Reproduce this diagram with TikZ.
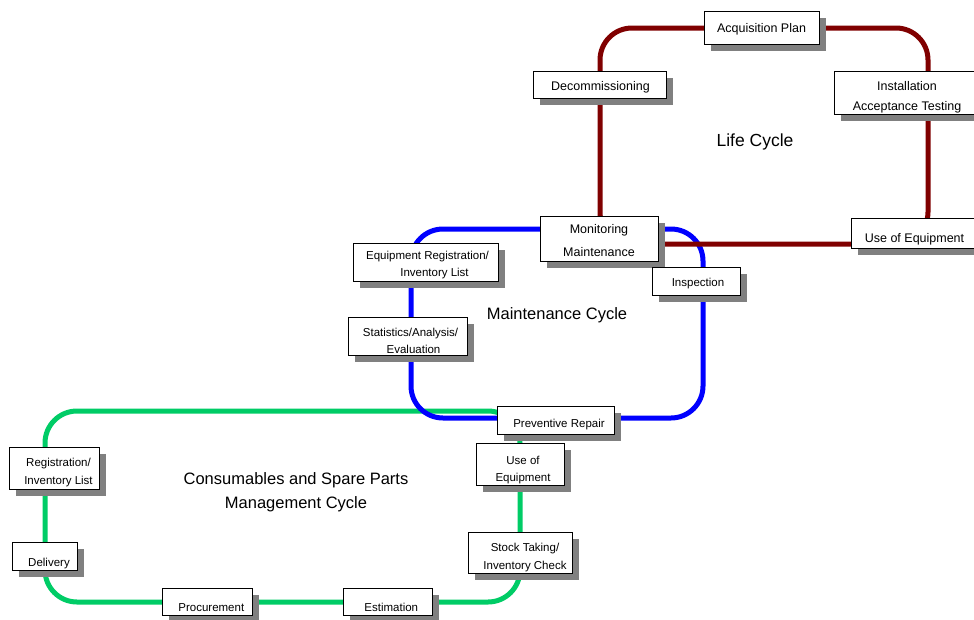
\documentclass[tikz,border=0pt]{standalone}
\usepackage{fontspec}
\setmainfont{Liberation Sans}
\usepackage{tikz}
\usetikzlibrary{shadows}
\definecolor{lifered}{RGB}{128,0,0}
\definecolor{maintblue}{RGB}{0,0,255}
\definecolor{partsgreen}{RGB}{0,204,102}
\tikzset{
    %Define style for boxes
    stage/.style={
           rectangle,
           draw=black, thick,
           fill=white,
           inner sep=0pt,
           align=center,
           font=\fontsize{12.5}{20}\selectfont,
           drop shadow={shadow xshift=7pt, shadow yshift=-7pt,
                        fill=black!50, opacity=1}
           },
    smallstage/.style={
           stage,
           font=\fontsize{11.5}{17.5}\selectfont
           },
    %Move the text inside a box (right, down, height of the lines above the last)
    nudge/.style n args={3}{
           execute at begin node={\hspace*{\dimexpr#1*2\relax}\rule{0pt}{\dimexpr#3+9.2pt+#2*2\relax}}
           },
    cyclelabel/.style={
           align=center,
           font=\fontsize{16.5}{24}\selectfont
           },
    % Define loop style
    loop/.style={
           line width=5pt,
           rounded corners=32pt}
}
\begin{document}
\begin{tikzpicture}[x=1pt,y=-1pt]
\useasboundingbox (0,0) rectangle (974,619);
 %loops
\draw[loop, partsgreen] (45,411) rectangle (520,602);
\draw[loop, maintblue] (411,229) rectangle (703,418);
\draw[loop, lifered] (600,28) rectangle (928,244);

 %life cycle
\node[stage, minimum width=115pt, minimum height=33pt, nudge={0pt}{2pt}{0pt}] (acq) at (761.5,27.5) {Acquisition Plan};
\node[stage, minimum width=133pt, minimum height=27pt, nudge={1pt}{2.2pt}{0pt}] (decom) at (599.5,84.5) {Decommissioning};
\node[stage, minimum width=142pt, minimum height=43pt, nudge={2pt}{5pt}{20pt}] (install) at (905,92.5) {Installation\\Acceptance Testing};
\node[stage, minimum width=129pt, minimum height=30pt, nudge={-1pt}{6pt}{0pt}] (uselife) at (915.5,233) {Use of Equipment};
\node[stage, minimum width=118pt, minimum height=45pt, font=\fontsize{12.5}{22.5}\selectfont, nudge={0pt}{2pt}{22.5pt}] (monitor) at (599,238.5) {Monitoring\\Maintenance};
\node[cyclelabel, font=\fontsize{17.5}{24}\selectfont] (life) at (755,142) {Life Cycle};

 %maintenance cycle
\node[smallstage, minimum width=88pt, minimum height=28pt, nudge={2pt}{2pt}{0pt}] (inspect) at (696,281) {Inspection};
\node[smallstage, minimum width=145pt, minimum height=38pt, nudge={2pt}{2.6pt}{17.5pt}] (equipreg) at (425.5,262) {Equipment Registration/\\\hspace*{14pt}Inventory List};
\node[smallstage, minimum width=119pt, minimum height=38pt, nudge={3pt}{4.4pt}{17.5pt}] (stats) at (407.5,336) {Statistics/Analysis/\\\hspace*{6pt}Evaluation};
\node[cyclelabel] (maint) at (557,315) {Maintenance Cycle};

 %consumables cycle
\node[smallstage, minimum width=88pt, minimum height=42pt, nudge={3pt}{5.7pt}{17.5pt}] (usegreen) at (520,464) {Use of\\Equipment};
\node[smallstage, minimum width=104pt, minimum height=41pt, nudge={5pt}{4.7pt}{17.5pt}] (stock) at (520,552.5) {Stock Taking/\\Inventory Check};
\node[smallstage, minimum width=89pt, minimum height=27pt, nudge={3.8pt}{5pt}{0pt}] (estim) at (387.5,601.5) {Estimation};
\node[smallstage, minimum width=90pt, minimum height=27pt, nudge={4.3pt}{5.2pt}{0pt}] (procure) at (207,601.5) {Procurement};
\node[smallstage, minimum width=65pt, minimum height=28pt, nudge={4.5pt}{6.7pt}{0pt}] (deliver) at (44.5,556) {Delivery};
\node[smallstage, minimum width=90pt, minimum height=42pt, nudge={4.5pt}{4.2pt}{17.5pt}] (reg) at (54,468) {Registration/\\Inventory List};
\node[smallstage, minimum width=117pt, minimum height=28pt, nudge={3.5pt}{3.7pt}{0pt}] (prevent) at (555.5,420) {Preventive Repair};
\node[cyclelabel] (parts) at (296,492) {Consumables and Spare Parts\\Management Cycle};

\end{tikzpicture}
\end{document}
